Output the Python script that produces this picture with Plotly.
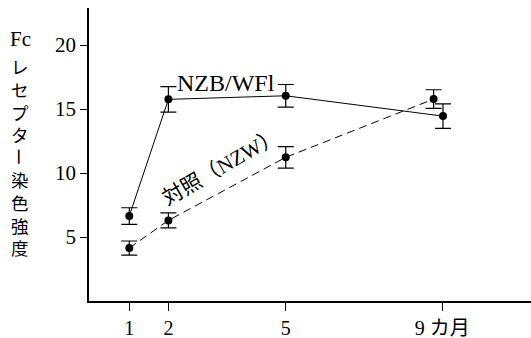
import plotly.graph_objects as go

# Months after start
months_nzb = [1, 2, 5, 9.02]
months_ctrl = [1, 2, 5, 8.78]

# Fc receptor staining intensity (mean ± error)
nzb_values = [6.64, 15.76, 16.04, 14.45]
nzb_errors = [0.65, 1.0, 0.88, 0.96]
ctrl_values = [4.14, 6.30, 11.23, 15.78]
ctrl_errors = [0.55, 0.59, 0.84, 0.73]

x_tick_vals = [1, 2, 5, 9]
x_tick_text = ["1", "2", "5", "9 カ月"]
y_tick_vals = [5, 10, 15, 20]
y_tick_text = ["5", "10", "15", "20"]

# vertical y-axis title: "Fc" on top, then katakana, a long-vowel mark, then kanji
title_top = "Fc"
title_kana = ["レ", "セ", "プ", "タ"]
title_bar = "ー"
title_kanji = ["染", "色", "強", "度"]

W, H = 531, 338
ML, MR, MT, MB = 89, 0, 8, 37
PW, PH = W - ML - MR, H - MT - MB

SERIF = "Liberation Serif, Noto Sans CJK JP"
CJK = "Noto Sans CJK JP"
STEP = 22.75  # vertical pitch of stacked title characters (1.3 line height)


def px_to_paper(px, py):
    return (px - ML) / PW, 1 - (py - MT) / PH


fig = go.Figure()

fig.add_trace(go.Scatter(
    x=months_nzb, y=nzb_values, mode="lines+markers",
    line=dict(color="black", width=1),
    marker=dict(color="black", size=8),
    error_y=dict(type="data", array=nzb_errors, color="black", thickness=1.2, width=8),
    showlegend=False,
))
fig.add_trace(go.Scatter(
    x=months_ctrl, y=ctrl_values, mode="lines+markers",
    line=dict(color="black", width=1, dash="8px,5px"),
    marker=dict(color="black", size=8),
    error_y=dict(type="data", array=ctrl_errors, color="black", thickness=1.2, width=8),
    showlegend=False,
))

annotations = []
# series labels
annotations.append(dict(x=3.46, y=17.0, xref="x", yref="y", text="NZB/WFl",
                        xanchor="center", yanchor="middle",
                        showarrow=False, font=dict(family=SERIF, size=24, color="black")))
annotations.append(dict(x=3.34, y=10.5, xref="x", yref="y", text="対照（NZW）",
                        xanchor="center", yanchor="middle",
                        showarrow=False, textangle=-30,
                        font=dict(family=SERIF, size=21, color="black")))

# y-axis title pieces
fx, fy = px_to_paper(20, 39)
annotations.append(dict(x=fx, y=fy, xref="paper", yref="paper", text=title_top,
                        xanchor="center", yanchor="middle",
                        showarrow=False, font=dict(family="Liberation Serif", size=21, color="black")))

first = 66
kx, ky = px_to_paper(20, first + STEP * (len(title_kana) - 1) / 2)
annotations.append(dict(x=kx, y=ky, xref="paper", yref="paper", text="<br>".join(title_kana),
                        xanchor="center", yanchor="middle", showarrow=False,
                        font=dict(family=CJK, size=17.5, color="black")))
bx, by = px_to_paper(20, first + STEP * len(title_kana))
annotations.append(dict(x=bx, y=by, xref="paper", yref="paper", text=title_bar,
                        xanchor="center", yanchor="middle", showarrow=False, textangle=90,
                        font=dict(family=CJK, size=17.5, color="black")))
start2 = first + STEP * (len(title_kana) + 1)
jx, jy = px_to_paper(20, start2 + STEP * (len(title_kanji) - 1) / 2)
annotations.append(dict(x=jx, y=jy, xref="paper", yref="paper", text="<br>".join(title_kanji),
                        xanchor="center", yanchor="middle", showarrow=False,
                        font=dict(family=CJK, size=17.5, color="black")))

fig.update_layout(
    width=W, height=H,
    margin=dict(l=ML, r=MR, t=MT, b=MB),
    paper_bgcolor="white", plot_bgcolor="white",
    annotations=annotations,
    xaxis=dict(range=[-0.03, 11.27], tickvals=x_tick_vals, ticktext=x_tick_text,
               showgrid=False, zeroline=False, showline=True, linecolor="black", linewidth=1.5,
               ticks="outside", ticklen=8, tickcolor="black", tickwidth=1,
               tickfont=dict(family=SERIF, size=20, color="black")),
    yaxis=dict(range=[0, 22.9], tickvals=y_tick_vals, ticktext=y_tick_text,
               showgrid=False, zeroline=False, showline=True, linecolor="black", linewidth=1.5,
               ticks="outside", ticklen=7, tickcolor="black", tickwidth=1,
               tickfont=dict(family=SERIF, size=21, color="black")),
)

fig.write_html("out.html")
